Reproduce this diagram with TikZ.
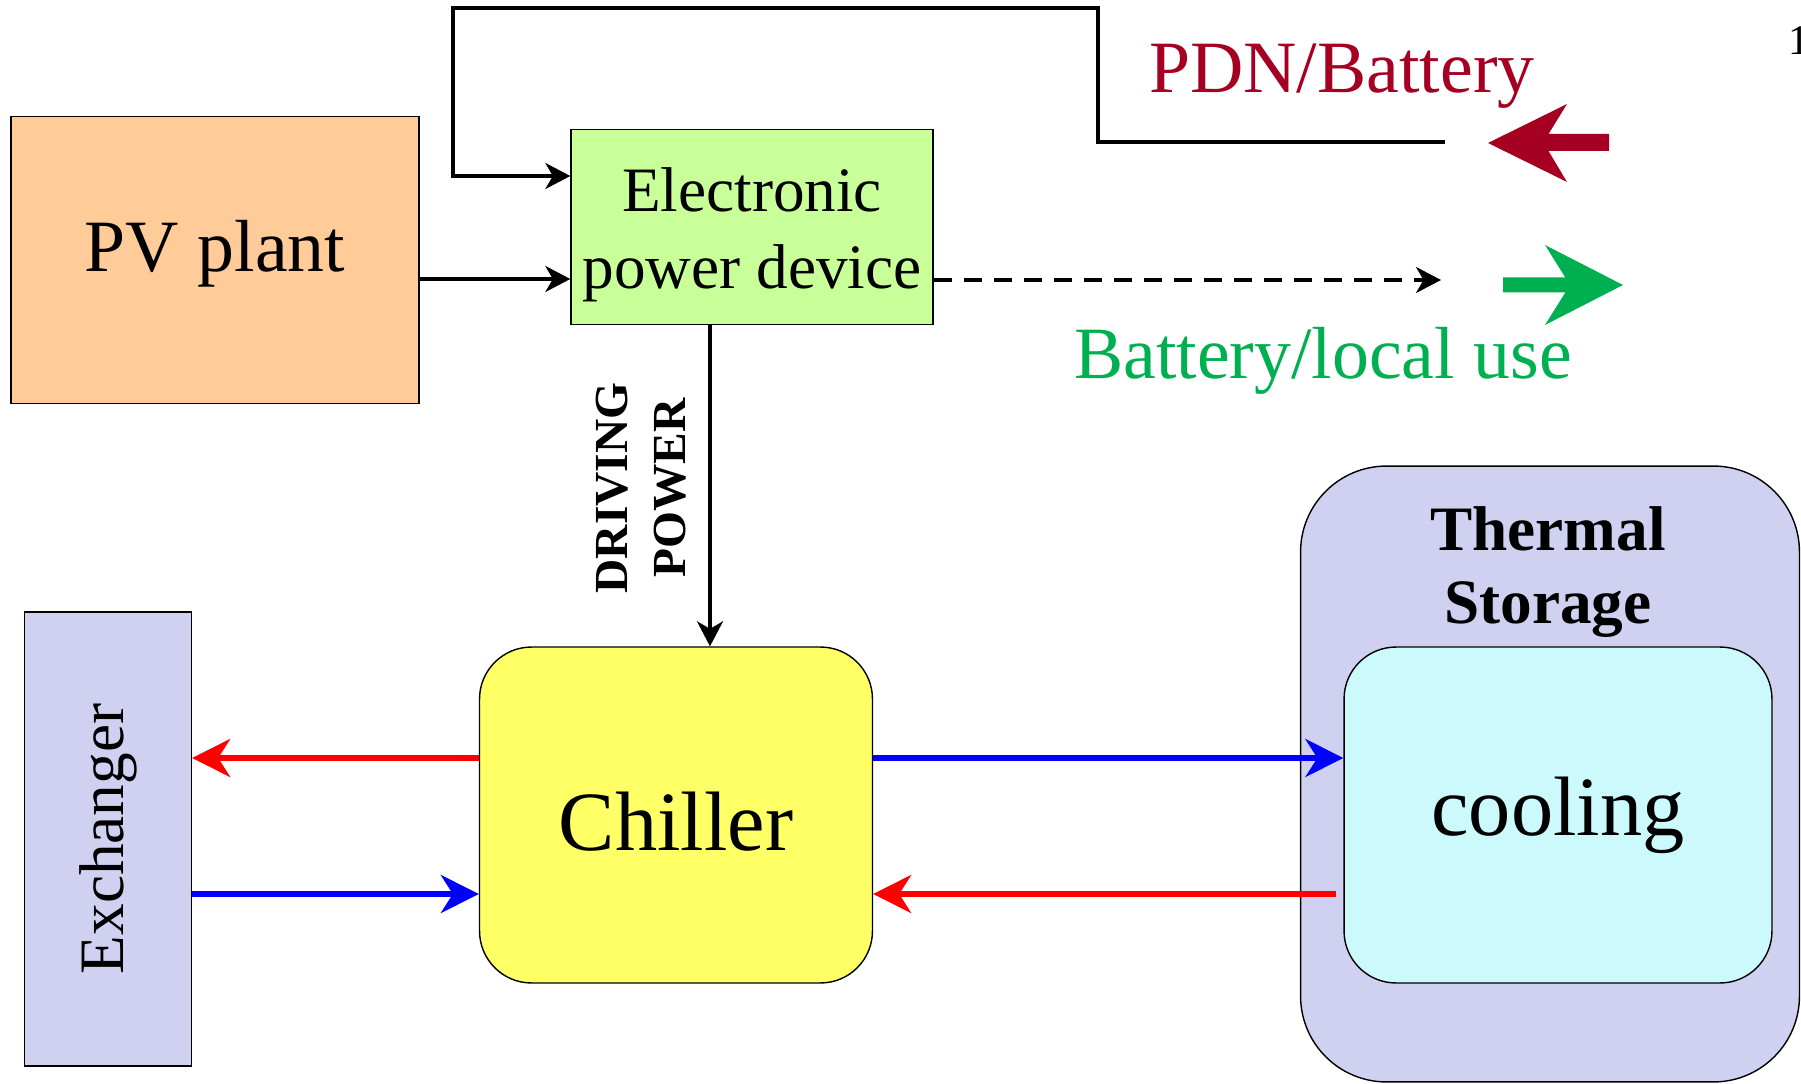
\documentclass[tikz,border=0pt]{standalone}
\usepackage{fontspec}
\setmainfont{Liberation Serif}
\usepackage{xcolor}
\usepackage{tikz}
\usetikzlibrary{arrows.meta}
\definecolor{pvpeach}{HTML}{FFCC99}
\definecolor{devlime}{HTML}{C8FF99}
\definecolor{chillyellow}{HTML}{FFFF66}
\definecolor{storelav}{HTML}{D0D0F0}
\definecolor{coolcyan}{HTML}{CCFAFC}
\definecolor{pdnwine}{HTML}{A50021}
\definecolor{localgreen}{HTML}{00B050}
\definecolor{hotred}{HTML}{FF0000}
\definecolor{coldblue}{HTML}{0000FF}

\begin{document}
\begin{tikzpicture}[x=0.02cm, y=-0.02cm,
  box/.style={draw=black, line width=0.8pt, inner sep=0pt, align=center},
  flow/.style={line width=2pt, -{Stealth[length=0.5cm, width=0.52cm, inset=0.15cm]}},
  hotflow/.style={hotred, line width=3pt, -{Stealth[length=0.76cm, width=0.76cm, inset=0.24cm]}},
  coldflow/.style={coldblue, line width=3pt, -{Stealth[length=0.76cm, width=0.76cm, inset=0.24cm]}}]
\useasboundingbox (0,0) rectangle (1801,1084);

\node[box, fill=pvpeach, minimum width=8.16cm, minimum height=5.74cm] (pv) at (215,260) {};
\node[font=\fontsize{42}{50}\selectfont] (pvlabel) at ([yshift=0.12cm]pv.center) {PV plant};
\node[box, fill=devlime, minimum width=7.24cm, minimum height=3.9cm] (device) at (752,227) {};
\node[align=center, font=\fontsize{36}{44}\selectfont] (devicelabel) at ([yshift=-0.16cm]device.center) {Electronic\\power device};
\node[box, fill=chillyellow, rounded corners=1.04cm, minimum width=7.86cm, minimum height=6.72cm] (chiller) at (676,815) {};
\node[font=\fontsize{48}{58}\selectfont] (chillerlabel) at ([yshift=-0.14cm]chiller.center) {Chiller};
\node[box, fill=storelav, minimum width=3.34cm, minimum height=9.08cm] (exchanger) at (108,839) {};
\node[rotate=90, font=\fontsize{36}{44}\selectfont] (exlabel) at (exchanger) {Exchanger};
\node[box, fill=storelav, rounded corners=1.72cm, minimum width=9.98cm, minimum height=12.32cm] (storage) at (1550,774) {};
\node[box, fill=coolcyan, rounded corners=1.04cm, minimum width=8.56cm, minimum height=6.72cm,
      font=\fontsize{48}{58}\selectfont] (cooling) at (1558,815) {cooling};
\node[align=center, font=\bfseries\fontsize{36}{42}\selectfont] (storelabel) at (1548,572) {Thermal\\Storage};
\node[align=center, rotate=90, font=\bfseries\fontsize{27}{33}\selectfont] (drivelabel) at (641,488) {DRIVING\\POWER};
\node[text=pdnwine, font=\fontsize{42}{50}\selectfont] (pdnlabel) at (1342,76) {PDN/Battery};
\node[text=localgreen, font=\fontsize{42}{50}\selectfont] (locallabel) at (1323,361) {Battery/local use};
\node[anchor=base west, font=\fontsize{24}{28}\selectfont] (pagenum) at (1782,55) {10};

\coordinate (pvrow) at (0,279);
\coordinate (feedrow) at (0,176);
\coordinate (drivecol) at (710,0);
\coordinate (hotrow) at (0,758);
\coordinate (coldrow) at (0,894);
\coordinate (pdnend) at (1445,142);
\coordinate (localend) at (1441,280);
\coordinate (pdnhead) at (1488,143);
\coordinate (greenhead) at (1623,285);

\draw[flow] (pv.east |- pvrow) -- (device.west |- pvrow);
\draw[flow] (pdnend) -- (1098,142) |- (453,8) |- (device.west |- feedrow);
\draw[flow, dash pattern=on 0.36cm off 0.24cm] (device.east |- localend) -- (localend);
\draw[flow] (device.south -| drivecol) -- (chiller.north -| drivecol);

\draw[hotflow] (chiller.west |- hotrow) -- (exchanger.east |- hotrow);
\draw[coldflow] (exchanger.east |- coldrow) -- (chiller.west |- coldrow);
\draw[coldflow] (chiller.east |- hotrow) -- (cooling.west |- hotrow);
\draw[hotflow, shorten <=0.14cm] (cooling.west |- coldrow) -- (chiller.east |- coldrow);

\fill[pdnwine] (pdnhead) -- ++(79,-39) -- ++(-18.5,30) -- ++(60.5,0) -- ++(0,17)
  -- ++(-60.5,0) -- ++(18.5,31) -- cycle;
\fill[localgreen] (greenhead) -- ++(-78,-40) -- ++(20.3,32.5) -- ++(-62.3,0) -- ++(0,15)
  -- ++(62.3,0) -- ++(-20.3,32.5) -- cycle;
\end{tikzpicture}
\end{document}
